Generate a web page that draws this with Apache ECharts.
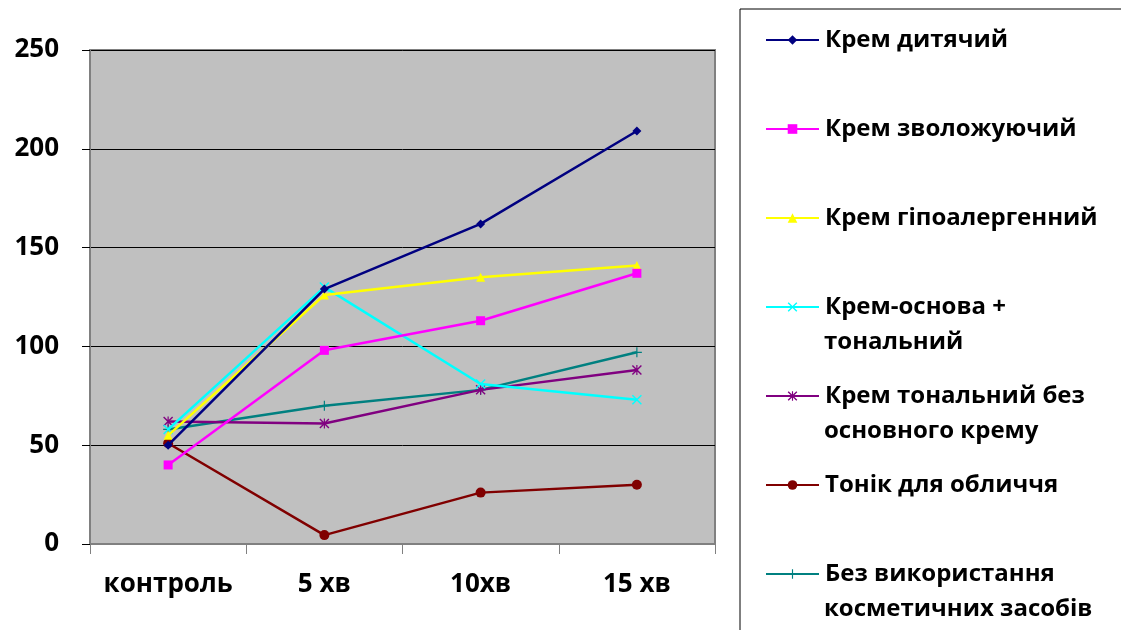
<!DOCTYPE html>
<html>
<head>
<meta charset="utf-8">
<script src="https://cdn.jsdelivr.net/npm/echarts@6/dist/echarts.min.js"></script>
<style>html,body{margin:0;padding:0;background:#fff}#c{width:1121px;height:630px}</style>
</head>
<body>
<div id="c"></div>
<script>
const categories = ['контроль', '5 хв', '10хв', '15 хв'];
const yTicks = [0, 50, 100, 150, 200, 250];
const seriesNames = [
  'Крем дитячий',
  'Крем зволожуючий',
  'Крем гіпоалергенний',
  'Крем-основа +\nтональний',
  'Крем тональний без\nосновного крему',
  'Тонік для обличчя',
  'Без використання\nкосметичних засобів'
];
const kremDytyachyi = [50, 129, 162, 209];
const kremZvolozhuyuchyi = [40, 98, 113, 137];
const kremHipoalerhennyi = [55, 126, 135, 141];
const kremOsnovaTonalnyi = [58, 130, 81, 73];
const kremTonalnyiBez = [62, 61, 78, 88];
const tonik = [51, 4.5, 26, 30];
const bezVykorystannya = [58, 70, 78, 97];

const seriesData = [kremDytyachyi, kremZvolozhuyuchyi, kremHipoalerhennyi, kremOsnovaTonalnyi, kremTonalnyiBez, tonik, bezVykorystannya];
const colors = ['#000080', '#FF00FF', '#FFFF00', '#00FFFF', '#800080', '#800000', '#008080'];
const XPATH = 'path://M0,1L1,0L5,4L9,0L10,1L6,5L10,9L9,10L5,6L1,10L0,9L4,5Z';
const STAR = 'path://M0,1L1,0L5,4L9,0L10,1L6,5L10,9L9,10L5,6L1,10L0,9L4,5ZM4.4,0H5.6V10H4.4Z';
const PLUS = 'path://M4.4,0H5.6V4.4H10V5.6H5.6V10H4.4V5.6H0V4.4H4.4Z';
const symbols = ['diamond', 'rect', 'triangle', XPATH, STAR, 'circle', PLUS];
const symbolSizes = [9, 9, 9, 10, 10, 10, 10];

const FONT = '"Open Sans", "DejaVu Sans", sans-serif';
const legendCenters = [40, 129, 218, 307, 396, 485, 574];

const chart = echarts.init(document.getElementById('c'));

const series = seriesNames.map((n, i) => ({
  name: n,
  type: 'line',
  data: seriesData[i],
  symbol: symbols[i],
  symbolSize: symbolSizes[i],
  lineStyle: { color: colors[i], width: 2.5 },
  itemStyle: { color: colors[i] },
  z: 10 - i
}));

const legends = seriesNames.map((n, i) => ({
  data: [n],
  left: 765,
  top: legendCenters[i] - 15,
  padding: 0,
  itemWidth: 53,
  itemHeight: 12,
  itemGap: 0,
  z: 10,
  selectedMode: false,
  formatter: (name) => name.split('\n')[0],
  textStyle: { fontFamily: FONT, fontSize: 24, fontWeight: 'bold', color: '#000', lineHeight: 30, padding: [0, 0, 0, 1] }
}));

const secondLines = [];
seriesNames.forEach((n, i) => {
  const parts = n.split('\n');
  if (parts.length > 1) {
    secondLines.push({
      type: 'text', left: 824, top: legendCenters[i] + 35 - 15, z: 10,
      style: { text: parts[1], font: 'bold 24px ' + FONT, fill: '#000', lineHeight: 30 }
    });
  }
});

chart.setOption({
  animation: false,
  backgroundColor: '#fff',
  grid: {
    left: 90, right: 406, top: 50, bottom: 86,
    show: true, backgroundColor: '#C0C0C0', borderColor: '#808080', borderWidth: 2
  },
  xAxis: {
    type: 'category',
    data: categories,
    boundaryGap: true,
    axisLine: { lineStyle: { color: '#808080', width: 2 } },
    axisTick: { show: true, interval: 0, length: 10, lineStyle: { color: '#808080', width: 1 } },
    axisLabel: { interval: 0, hideOverlap: false, margin: 28, fontFamily: FONT, fontSize: 26, fontWeight: 'bold', color: '#000' },
    splitLine: { show: false }
  },
  yAxis: {
    type: 'value',
    min: yTicks[0],
    max: yTicks[yTicks.length - 1],
    interval: yTicks[1] - yTicks[0],
    axisLine: { show: true, lineStyle: { color: '#808080', width: 2 } },
    axisTick: { show: true, length: 8, lineStyle: { color: '#000', width: 1 } },
    axisLabel: { margin: 31, fontFamily: FONT, fontSize: 26, fontWeight: 'bold', color: '#000' },
    splitLine: { show: true, lineStyle: { color: '#000', width: 1 } }
  },
  legend: legends,
  graphic: [
    { type: 'rect', shape: { x: 740, y: 9, width: 420, height: 660 }, style: { fill: '#fff', stroke: '#000', lineWidth: 1 }, z: 0, silent: true }
  ].concat(secondLines),
  series: series
});
</script>
</body>
</html>
